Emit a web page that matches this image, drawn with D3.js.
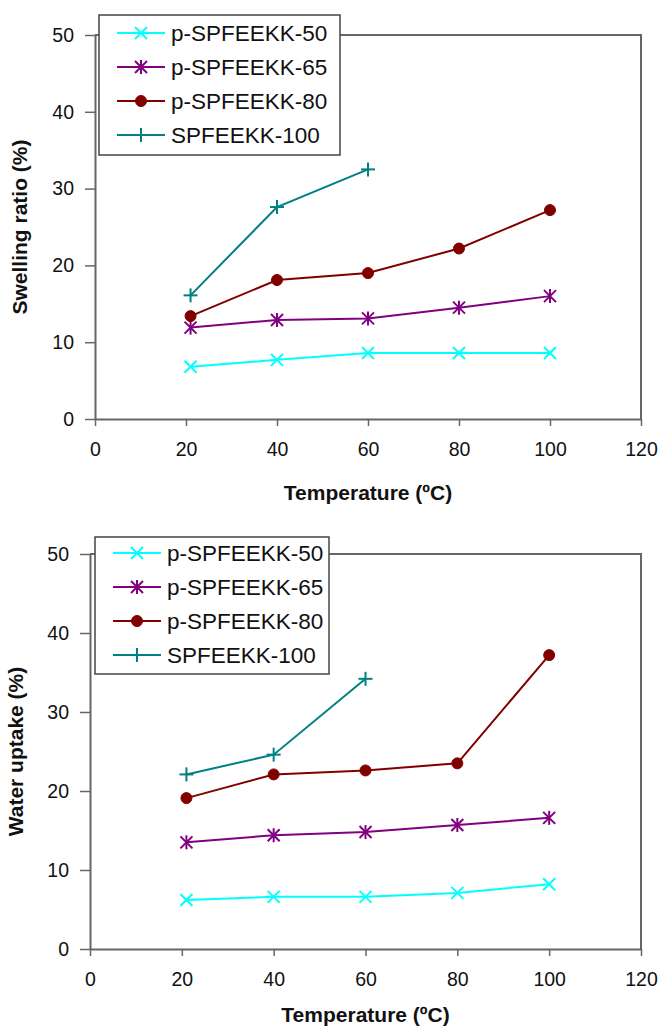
<!DOCTYPE html>
<html>
<head>
<meta charset="utf-8">
<script src="https://cdn.jsdelivr.net/npm/d3@7"></script>
<style>
  body { margin: 0; background: #fff; }
  svg { display: block; }
  text { font-family: "Liberation Sans", Arial, Helvetica, sans-serif; fill: #111; }
</style>
</head>
<body>
<svg id="chart" width="658" height="1030"></svg>
<script>
// Temperatures (ºC) at which samples were measured
const temps = [21, 40, 60, 80, 100];
const temps100 = [21, 40, 60];

// Swelling ratio (%)
const swelling50 = [6.8, 7.7, 8.6, 8.6, 8.6];
const swelling65 = [11.9, 12.9, 13.1, 14.5, 16.0];
const swelling80 = [13.4, 18.1, 19.0, 22.2, 27.2];
const swelling100 = [16.1, 27.6, 32.5];

// Water uptake (%)
const uptake50 = [6.2, 6.6, 6.6, 7.1, 8.2];
const uptake65 = [13.5, 14.4, 14.8, 15.7, 16.6];
const uptake80 = [19.1, 22.1, 22.6, 23.5, 37.2];
const uptake100 = [22.1, 24.6, 34.2];

const seriesNames = ["p-SPFEEKK-50", "p-SPFEEKK-65", "p-SPFEEKK-80", "SPFEEKK-100"];
const seriesColors = ["#00FFFF", "#800080", "#800000", "#008080"];
const seriesMarkers = ["x", "star", "circle", "plus"];

const xTicks = [0, 20, 40, 60, 80, 100, 120];
const yTicks = [0, 10, 20, 30, 40, 50];
const xTitle = "Temperature (ºC)";

const svg = d3.select("#chart");

// Marker glyph drawn centred on (0,0)
function drawMarker(g, type, color) {
  const s = 6;
  if (type === "circle") {
    g.append("circle").attr("r", 5.5).attr("fill", color).attr("stroke", color);
    return;
  }
  const segs = [];
  if (type === "x" || type === "star") {
    segs.push([-s, -s, s, s], [-s, s, s, -s]);
  }
  if (type === "star") segs.push([0, -s - 1, 0, s + 1]);
  if (type === "plus") segs.push([-s - 1, 0, s + 1, 0], [0, -s - 1, 0, s + 1]);
  segs.forEach(d => g.append("line")
    .attr("x1", d[0]).attr("y1", d[1]).attr("x2", d[2]).attr("y2", d[3])
    .attr("stroke", color).attr("stroke-width", 2));
}

function panel(cfg) {
  const { left, right, top, bottom, yTitle, series, legend } = cfg;
  const x = d3.scaleLinear().domain([0, 120]).range([left, right]);
  const y = d3.scaleLinear().domain([0, 50]).range([bottom, top]);
  const g = svg.append("g");

  // frame: top and right edges
  g.append("path")
    .attr("d", `M${left},${top}H${right}V${bottom}`)
    .attr("fill", "none").attr("stroke", "#666").attr("stroke-width", 2);

  const xAxis = g.append("g").attr("transform", `translate(0,${bottom})`)
    .call(d3.axisBottom(x).tickValues(xTicks).tickSize(7).tickPadding(16).tickSizeOuter(0));
  const yAxis = g.append("g").attr("transform", `translate(${left},0)`)
    .call(d3.axisLeft(y).tickValues(yTicks).tickSize(10).tickPadding(11).tickSizeOuter(0));
  [xAxis, yAxis].forEach(a => {
    a.select(".domain").attr("stroke", "#666").attr("stroke-width", 2);
    a.selectAll(".tick line").attr("stroke", "#666").attr("stroke-width", 1.5);
    a.selectAll(".tick text").attr("font-size", 19.5).attr("fill", "#222")
      .attr("font-family", "Liberation Sans, Arial, sans-serif");
  });

  // axis titles
  g.append("text")
    .attr("x", (left + right) / 2).attr("y", cfg.xTitleY)
    .attr("text-anchor", "middle").attr("font-size", 21).attr("font-weight", "bold")
    .text(xTitle);
  g.append("text")
    .attr("transform", `translate(${cfg.yTitleX},${(top + bottom) / 2}) rotate(-90)`)
    .attr("text-anchor", "middle").attr("font-size", 21).attr("font-weight", "bold")
    .text(yTitle);

  // series lines + markers
  const line = d3.line().x(d => x(d[0])).y(d => y(d[1]));
  series.forEach((vals, i) => {
    const xs = vals.length === temps.length ? temps : temps100;
    const pts = vals.map((v, j) => [xs[j], v]);
    g.append("path").datum(pts).attr("d", line)
      .attr("fill", "none").attr("stroke", seriesColors[i]).attr("stroke-width", 2);
    pts.forEach(p => {
      const m = g.append("g").attr("transform", `translate(${x(p[0])},${y(p[1])})`);
      drawMarker(m, seriesMarkers[i], seriesColors[i]);
    });
  });

  // legend
  const lg = g.append("g");
  lg.append("rect")
    .attr("x", legend.x).attr("y", legend.y).attr("width", legend.w).attr("height", legend.h)
    .attr("fill", "#fff").attr("stroke", "#444").attr("stroke-width", 1.5);
  seriesNames.forEach((name, i) => {
    const cy = legend.y + legend.first + i * legend.step;
    const lx = legend.x + 18;
    lg.append("line").attr("x1", lx).attr("x2", lx + 48).attr("y1", cy).attr("y2", cy)
      .attr("stroke", seriesColors[i]).attr("stroke-width", 2);
    drawMarker(lg.append("g").attr("transform", `translate(${lx + 24},${cy})`), seriesMarkers[i], seriesColors[i]);
    lg.append("text").attr("x", lx + 54).attr("y", cy).attr("dy", "0.36em")
      .attr("font-size", 22.5).text(name);
  });
}

panel({
  left: 95, right: 641, top: 35, bottom: 419,
  yTitle: "Swelling ratio (%)", yTitleX: 27, xTitleY: 500,
  series: [swelling50, swelling65, swelling80, swelling100],
  legend: { x: 99, y: 15, w: 241, h: 140, first: 18, step: 34 }
});

panel({
  left: 90, right: 641, top: 554, bottom: 949,
  yTitle: "Water uptake (%)", yTitleX: 23, xTitleY: 1022,
  series: [uptake50, uptake65, uptake80, uptake100],
  legend: { x: 95, y: 537, w: 234, h: 137, first: 16, step: 34 }
});
</script>
</body>
</html>
